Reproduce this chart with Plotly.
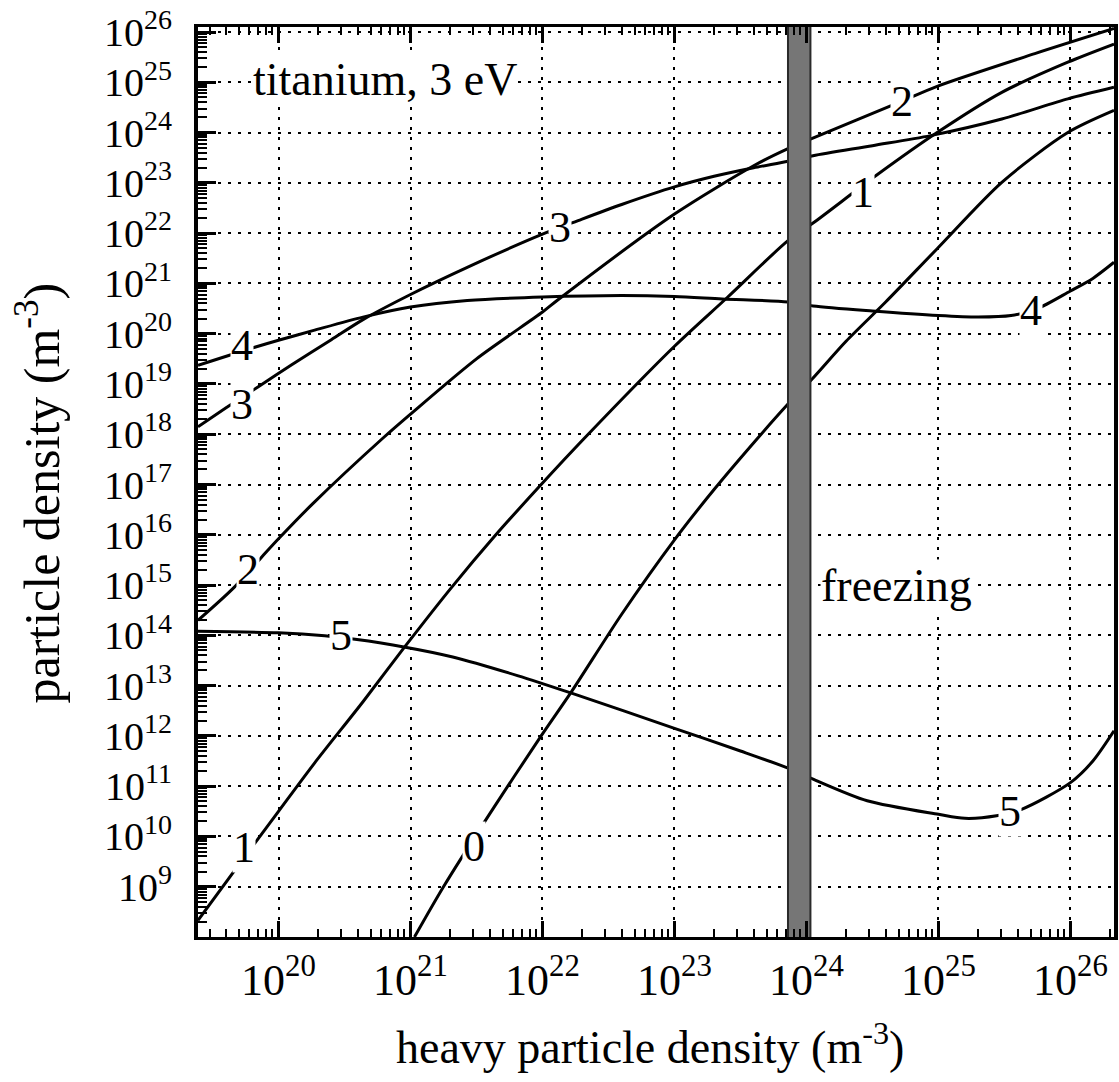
import numpy as np
import plotly.graph_objects as go

# ---------------- data (log10 of densities, m^-3) ----------------
X_RANGE = [19.39, 26.33]
Y_RANGE = [8.0, 26.1]

curve_0_logx = [21.03, 21.25, 21.6, 21.99, 22.22, 22.6, 23.0, 23.3, 23.63, 23.86, 24.05, 24.3, 24.6, 24.99, 25.48, 25.98, 26.33]
curve_0_logy = [8.0, 9.0, 10.45, 12.0, 12.88, 14.42, 15.9, 16.9, 17.92, 18.6, 19.12, 19.85, 20.63, 21.69, 23.01, 24.0, 24.44]

curve_1_logx = [19.39, 19.65, 20.0, 20.27, 20.64, 20.95, 21.31, 21.64, 21.99, 22.31, 23.0, 23.4, 23.86, 24.05, 24.53, 24.99, 25.48, 25.98, 26.33]
curve_1_logy = [8.33, 9.26, 10.5, 11.45, 12.68, 13.75, 14.95, 15.98, 17.0, 17.9, 19.75, 20.72, 21.85, 22.2, 23.15, 24.0, 24.8, 25.4, 25.76]

curve_2_logx = [19.39, 19.65, 19.87, 20.0, 20.26, 20.79, 21.0, 21.5, 22.0, 22.12, 23.0, 23.6, 23.86, 24.03, 24.72, 24.99, 25.73, 26.33]
curve_2_logy = [14.3, 14.92, 15.55, 15.92, 16.62, 17.92, 18.4, 19.5, 20.43, 20.68, 22.38, 23.34, 23.68, 23.87, 24.62, 24.92, 25.57, 26.07]

curve_3_logx = [19.39, 19.6, 19.85, 20.1, 20.4, 20.64, 21.0, 21.43, 22.0, 22.27, 22.6, 23.0, 23.3, 23.6, 23.86, 24.05, 24.5, 24.94, 25.48, 25.98, 26.33]
curve_3_logy = [18.15, 18.52, 18.95, 19.38, 19.88, 20.28, 20.78, 21.32, 21.98, 22.25, 22.57, 22.92, 23.13, 23.3, 23.43, 23.54, 23.74, 23.94, 24.27, 24.67, 24.9]

curve_4_logx = [19.39, 19.82, 20.0, 20.26, 20.64, 21.0, 21.43, 22.0, 22.6, 23.0, 23.36, 23.86, 24.05, 24.5, 25.0, 25.3, 25.55, 25.75, 26.0, 26.17, 26.33]
curve_4_logy = [19.37, 19.73, 19.87, 20.06, 20.33, 20.53, 20.66, 20.73, 20.76, 20.74, 20.69, 20.63, 20.55, 20.45, 20.36, 20.33, 20.36, 20.5, 20.85, 21.1, 21.42]

curve_5_logx = [19.39, 20.0, 20.35, 20.58, 20.95, 21.32, 21.81, 22.22, 23.0, 23.5, 23.89, 24.05, 24.46, 25.0, 25.2, 25.44, 25.63, 26.0, 26.17, 26.33]
curve_5_logy = [14.08, 14.05, 13.99, 13.92, 13.77, 13.57, 13.2, 12.85, 12.15, 11.7, 11.33, 11.14, 10.71, 10.44, 10.36, 10.41, 10.54, 11.07, 11.5, 12.1]

# contour labels
label_text = ["0", "1", "1", "2", "2", "3", "3", "4", "4", "5", "5"]
label_logx = [21.48, 19.74, 24.43, 19.77, 24.72, 19.72, 22.13, 19.72, 25.7, 20.47, 25.54]
label_logy = [9.8, 9.79, 22.81, 15.3, 24.62, 18.6, 22.12, 19.77, 20.46, 14.0, 10.5]

# freezing band (log10 of heavy particle density)
freeze_logx = [23.86, 24.03]

# axis ticks
x_tick_exp = [20, 21, 22, 23, 24, 25, 26]
y_tick_exp = list(range(9, 27))

SERIF = "Liberation Serif, Times New Roman, serif"

curves = [
    (curve_0_logx, curve_0_logy),
    (curve_1_logx, curve_1_logy),
    (curve_2_logx, curve_2_logy),
    (curve_3_logx, curve_3_logy),
    (curve_4_logx, curve_4_logy),
    (curve_5_logx, curve_5_logy),
]

fig = go.Figure()
for lx, ly in curves:
    fig.add_trace(go.Scatter(
        x=np.power(10.0, lx), y=np.power(10.0, ly), mode="lines",
        line=dict(color="black", width=3, shape="spline", smoothing=0.8),
        showlegend=False, hoverinfo="skip"))

# freezing band
fx = np.power(10.0, [freeze_logx[0], freeze_logx[1], freeze_logx[1], freeze_logx[0], freeze_logx[0]])
fy = [1e7, 1e7, 1e27, 1e27, 1e7]
fig.add_trace(go.Scatter(
    x=fx, y=fy, mode="lines", fill="toself", fillcolor="#767676",
    line=dict(color="#2a2a2a", width=2), showlegend=False, hoverinfo="skip"))

annotations = []
for t, lx, ly in zip(label_text, label_logx, label_logy):
    annotations.append(dict(x=lx, y=ly, xref="x", yref="y", text=t, showarrow=False,
                            font=dict(family=SERIF, size=44, color="black"),
                            bgcolor="white", borderpad=0))

annotations.append(dict(x=19.8, y=25.05, xref="x", yref="y", text="titanium, 3 eV",
                        xanchor="left", showarrow=False, bgcolor="white", borderpad=0,
                        font=dict(family=SERIF, size=46, color="black")))
annotations.append(dict(x=24.1, y=15.0, xref="x", yref="y", text="freezing",
                        xanchor="left", showarrow=False, bgcolor="white", borderpad=0,
                        font=dict(family=SERIF, size=46, color="black")))

# axis titles
annotations.append(dict(x=0.493, y=-0.118, xref="paper", yref="paper",
                        xanchor="center", yanchor="middle",
                        text="heavy particle density (m<sup>-3</sup>)", showarrow=False,
                        font=dict(family=SERIF, size=46, color="black")))
annotations.append(dict(x=-0.174, y=0.488, xref="paper", yref="paper", textangle=-90,
                        xanchor="center", yanchor="middle",
                        text="particle density (m<sup>-3</sup>)", showarrow=False,
                        font=dict(family=SERIF, size=50, color="black")))

x_minor = [k * 10.0 ** n for n in range(19, 27) for k in range(2, 10)]
y_minor = [k * 10.0 ** n for n in range(8, 27) for k in range(2, 10)]

fig.update_layout(
    width=1119, height=1082,
    margin=dict(l=198, r=5, t=27, b=145, autoexpand=False),
    paper_bgcolor="white", plot_bgcolor="white",
    font=dict(family=SERIF, color="black"),
    annotations=annotations,
    xaxis=dict(
        type="log", range=X_RANGE, automargin=False,
        tickmode="array", tickvals=[10.0 ** e for e in x_tick_exp],
        ticktext=["10<sup>%d</sup>" % e for e in x_tick_exp],
        ticks="inside", ticklen=16, tickwidth=2.5, tickcolor="black",
        tickfont=dict(family=SERIF, size=44, color="black"),
        ticklabelstandoff=2, ticklabeloverflow="allow",
        showline=True, linecolor="black", linewidth=3, mirror="allticks",
        showgrid=True, gridcolor="black", gridwidth=1.5, griddash="3px,7px",
        zeroline=False,
        minor=dict(tickmode="array", tickvals=x_minor, ticks="inside", ticklen=8,
                   tickwidth=1.8, tickcolor="black", showgrid=False),
    ),
    yaxis=dict(
        type="log", range=Y_RANGE, automargin=False,
        tickmode="array", tickvals=[10.0 ** e for e in y_tick_exp],
        ticktext=["10<sup>%d</sup>" % e for e in y_tick_exp],
        ticks="inside", ticklen=18, tickwidth=2.5, tickcolor="black",
        tickfont=dict(family=SERIF, size=40, color="black"),
        ticklabelstandoff=14, ticklabeloverflow="allow",
        showline=True, linecolor="black", linewidth=4, mirror=True,
        showgrid=True, gridcolor="black", gridwidth=1.5, griddash="3px,7px",
        zeroline=False,
        minor=dict(tickmode="array", tickvals=y_minor, ticks="inside", ticklen=9,
                   tickwidth=2, tickcolor="black", showgrid=False),
    ),
)

fig.write_html("out.html", config={"displayModeBar": False},
               post_script="document.body.style.margin='0';document.body.style.overflow='hidden';")
